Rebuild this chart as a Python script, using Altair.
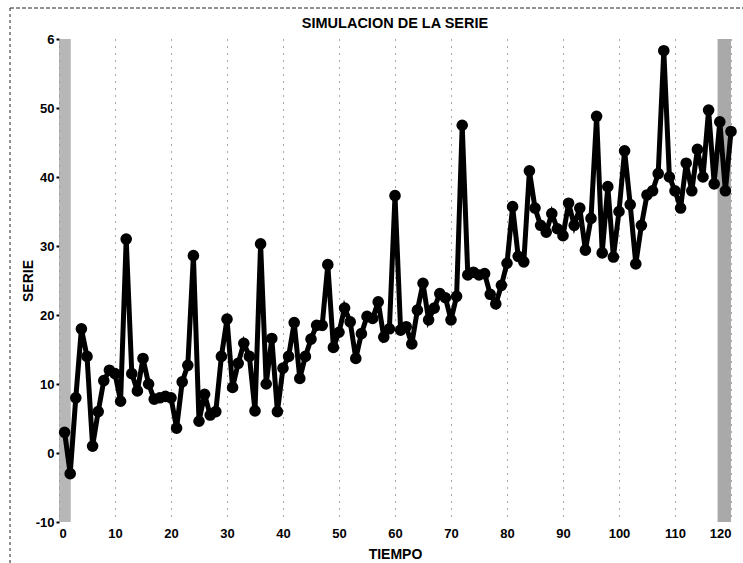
import altair as alt
import pandas as pd

# Monthly simulated series, t = 1..120
tiempo = list(range(1, 121))
serie = [
    3, -3, 8, 18, 14, 1, 6, 10.5, 12, 11.5, 7.5, 31,
    11.5, 9, 13.7, 10, 7.8, 8, 8.2, 8, 3.6, 10.3, 12.7, 28.6,
    4.6, 8.5, 5.5, 6, 14, 19.4, 9.5, 13, 15.9, 14, 6.1, 30.3,
    10, 16.6, 6, 12.3, 14, 18.9, 10.8, 14, 16.5, 18.5, 18.5, 27.3,
    15.3, 17.5, 21, 19, 13.7, 17.3, 19.8, 19.5, 21.9, 16.8, 18, 37.3,
    17.8, 18.3, 15.8, 20.7, 24.6, 19.3, 21, 23.1, 22.5, 19.3, 22.7, 47.5,
    25.8, 26.2, 25.8, 26, 23, 21.6, 24.3, 27.5, 35.7, 28.5, 27.7, 40.9,
    35.5, 33, 32, 34.7, 32.5, 31.5, 36.2, 33, 35.5, 29.4, 34, 48.8,
    29, 38.6, 28.4, 35, 43.8, 36, 27.4, 33, 37.4, 38, 40.5, 58.3,
    40, 38, 35.5, 42, 38, 44, 40, 49.7, 39, 48, 38, 46.6,
]

x_ticks = list(range(0, 121, 10))
y_ticks = list(range(-10, 61, 10))
titulo = "SIMULACION DE LA SERIE"

df = pd.DataFrame({"t": tiempo, "y": serie})
one = pd.DataFrame({"k": [0]})  # single row for decorations

FONT = "Liberation Sans"

x_scale = alt.Scale(domain=[0, 120], nice=False, zero=False)
y_scale = alt.Scale(domain=[-10, 60], nice=False, zero=False)

x_axis = alt.Axis(
    title="TIEMPO", values=x_ticks, grid=True, gridDash=[1, 6],
    gridColor="#555", gridWidth=1, domain=False, ticks=False,
    labelFont=FONT, labelFontSize=13, labelFontWeight="bold", labelColor="black",
    labelPadding=5, titleFont=FONT, titleFontSize=14, titleFontWeight="bold",
    titleColor="black", titlePadding=7,
)
y_axis = alt.Axis(
    title="SERIE", values=y_ticks, grid=False, domain=False,
    tickSize=3, tickWidth=2, tickColor="black",
    labelExpr=(
        "datum.value == 60 ? '6\u2007' : "
        "(datum.value < 0 ? '-' + abs(datum.value) : datum.label)"
    ),
    labelFont=FONT, labelFontSize=13, labelFontWeight="bold", labelColor="black",
    labelPadding=2, titleFont=FONT, titleFontSize=14, titleFontWeight="bold",
    titleColor="black", titlePadding=0,
)

base = alt.Chart(df)

# grey bands along the left and right edges of the plot box
edge_left = alt.Chart(one).mark_rect(color="#999999", opacity=0.7).encode(
    x=alt.datum(0, scale=x_scale), x2=alt.datum(2.1),
    y=alt.datum(-10, scale=y_scale), y2=alt.datum(60),
)
edge_right = alt.Chart(one).mark_rect(color="#8c8c8c", opacity=0.75).encode(
    x=alt.datum(117.6, scale=x_scale), x2=alt.datum(120),
    y=alt.datum(-10, scale=y_scale), y2=alt.datum(60),
)

line = base.mark_line(color="black", strokeWidth=5).encode(
    x=alt.X("t:Q", scale=x_scale, axis=x_axis),
    y=alt.Y("y:Q", scale=y_scale, axis=y_axis),
)
points = base.mark_circle(color="black", size=135, opacity=1).encode(
    x=alt.X("t:Q", scale=x_scale),
    y=alt.Y("y:Q", scale=y_scale),
)

# chart heading, centred over the plot box
heading = alt.Chart(one).mark_text(
    text=titulo, font=FONT, fontSize=14.5, fontWeight="bold", color="black",
    align="center", baseline="alphabetic",
).encode(x=alt.value(336), y=alt.value(-11))

# dashed figure frame (top and left)
frame_top = alt.Chart(one).mark_rule(color="#222", strokeWidth=1, strokeDash=[4, 2]).encode(
    x=alt.value(-49), x2=alt.value(690), y=alt.value(-31)
)
frame_left = alt.Chart(one).mark_rule(color="#222", strokeWidth=1, strokeDash=[3, 3]).encode(
    x=alt.value(-49), y=alt.value(-31), y2=alt.value(530)
)

chart = alt.layer(
    edge_left, edge_right, line, points, heading, frame_top, frame_left
).properties(
    width=672,
    height=483,
    autosize=alt.AutoSizeParams(type="none"),
    padding={"left": 59, "top": 39, "right": 12, "bottom": 41},
    background="white",
).configure_view(stroke="transparent", strokeWidth=0)

chart.save("out.html", embed_options={"renderer": "svg", "actions": False})
